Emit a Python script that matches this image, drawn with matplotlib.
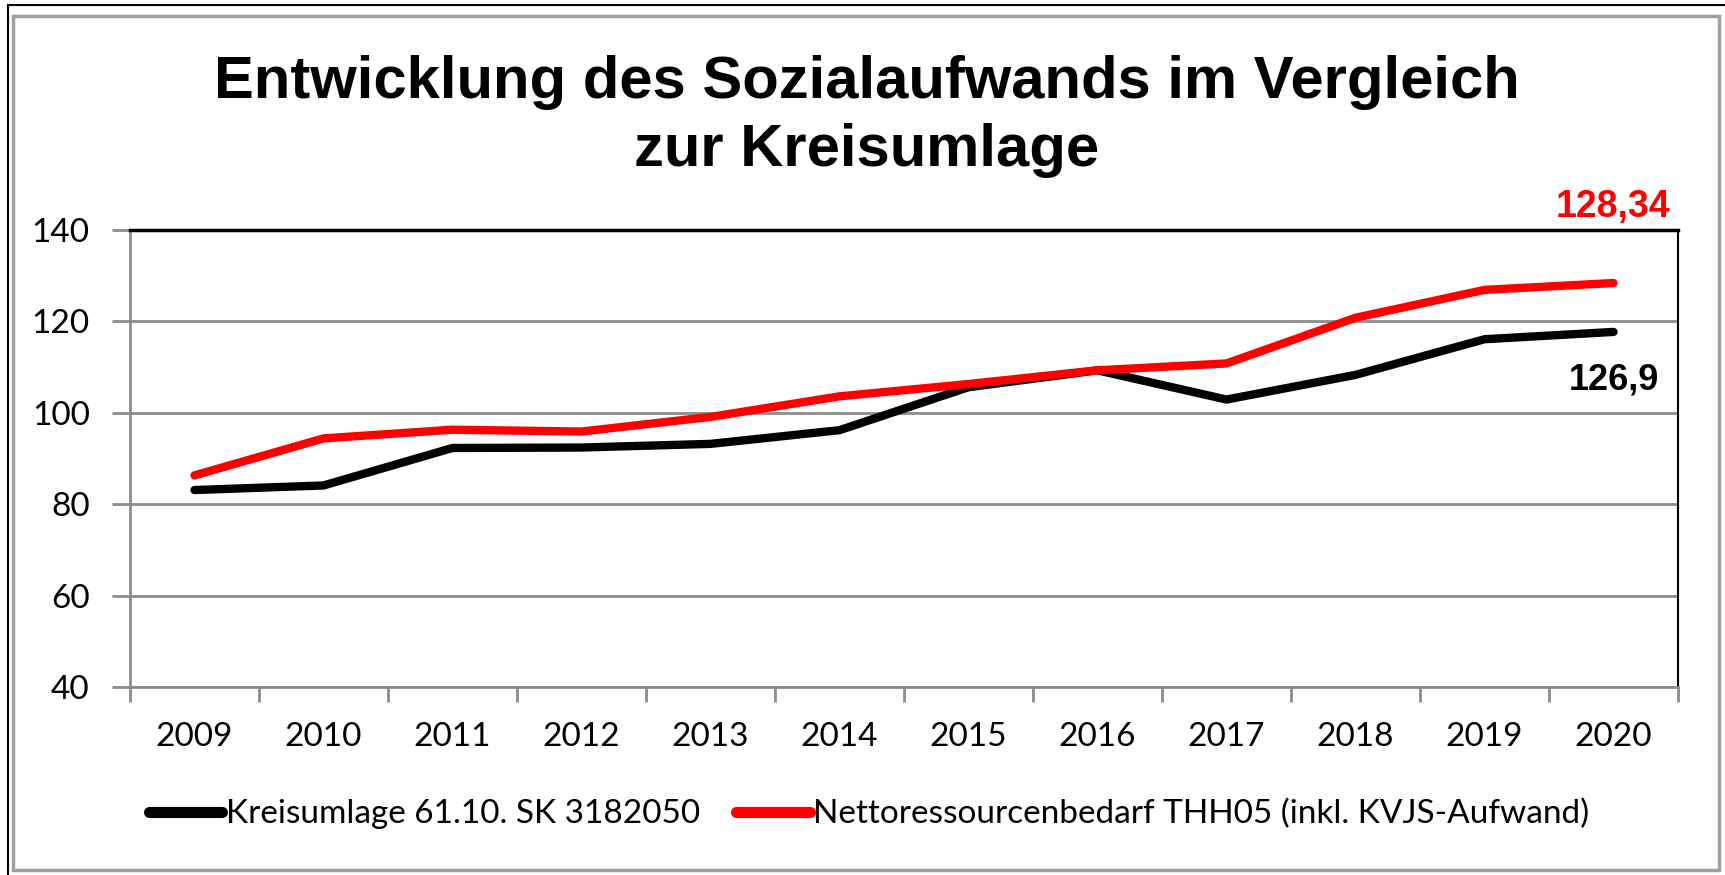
import matplotlib
matplotlib.use("Agg")
import matplotlib.pyplot as plt
from matplotlib.lines import Line2D
from matplotlib.patches import Rectangle

# data
years = ['2009', '2010', '2011', '2012', '2013', '2014',
         '2015', '2016', '2017', '2018', '2019', '2020']
kreisumlage = [83.1, 84.1, 92.3, 92.4, 93.2, 96.2,
               105.6, 109.3, 102.9, 108.3, 116.1, 117.7]
netto = [86.3, 94.4, 96.3, 95.9, 99.1, 103.6,
         106.3, 109.3, 110.8, 120.8, 126.9, 128.4]
label_black = 'Kreisumlage 61.10. SK 3182050'
label_red = 'Nettoressourcenbedarf THH05 (inkl. KVJS-Aufwand)'
note_red = '128,34'
note_black = '126,9'
yticks = [40, 60, 80, 100, 120, 140]

plt.rcParams["font.family"] = "Liberation Sans"
grey = '#8c8c8c'

fig = plt.figure(figsize=(17.25, 8.75), dpi=100)
ax = fig.add_axes([130/1725, 1 - 687/875, (1678-130)/1725, (687-230)/875])

x = list(range(len(years)))
ax.plot(x, kreisumlage, color='black', linewidth=6,
        solid_capstyle='round', solid_joinstyle='round', zorder=3)
ax.plot(x, netto, color='#ff0000', linewidth=6,
        solid_capstyle='round', solid_joinstyle='round', zorder=4)

ax.set_xlim(-0.5, len(years) - 0.5)
ax.set_ylim(40, 140)
ax.set_yticks(yticks)
ax.set_yticklabels([str(v) for v in yticks], family='Lato', fontsize=24)
ax.set_xticks(x)
ax.set_xticklabels(years, family='Lato', fontsize=24)
ax.set_xticks([i - 0.5 for i in range(len(years) + 1)], minor=True)
ax.tick_params(axis='x', which='major', length=0, pad=25)
ax.tick_params(axis='x', which='minor', length=11, width=2, color=grey)
ax.tick_params(axis='y', length=13, width=2, color=grey, pad=16)

ax.grid(axis='y', color=grey, linewidth=2)
ax.set_axisbelow(True)
for s in ['left', 'bottom']:
    ax.spines[s].set_color(grey)
    ax.spines[s].set_linewidth(2)
ax.spines['top'].set_color('black')
ax.spines['top'].set_linewidth(2.5)
ax.spines['right'].set_color('black')
ax.spines['right'].set_linewidth(1.5)

# value labels at the right end
ax.annotate(note_red, (x[-1], netto[-1]), xytext=(0, 76), textcoords='offset pixels',
            ha='center', va='center', color='#ff0000', fontsize=27, fontweight='bold')
ax.annotate(note_black, (x[-1], kreisumlage[-1]), xytext=(0, -48), textcoords='offset pixels',
            ha='center', va='center', color='black', fontsize=26, fontweight='bold')

fig.text(867/1725, 1 - 82/875, 'Entwicklung des Sozialaufwands im Vergleich',
         ha='center', va='center', fontsize=43, fontweight='bold')
fig.text(867/1725, 1 - 151/875, 'zur Kreisumlage',
         ha='center', va='center', fontsize=43, fontweight='bold')

handles = [Line2D([0], [0], color='black', linewidth=8, solid_capstyle='round'),
           Line2D([0], [0], color='#ff0000', linewidth=8, solid_capstyle='round')]
fig.legend(handles, [label_black, label_red], loc='center',
           bbox_to_anchor=(869/1725, 1 - 814/875), ncol=2, frameon=False,
           prop={'family': 'Lato', 'size': 24}, handlelength=2.2,
           handletextpad=0.1, columnspacing=1.1)

# chart frame
fig.add_artist(Line2D([8/1725, 8/1725], [0, 1 - 5/875], color='black', linewidth=1.5,
                      transform=fig.transFigure))
fig.add_artist(Line2D([8/1725, 1], [1 - 5/875, 1 - 5/875], color='black', linewidth=1.5,
                      transform=fig.transFigure))
fig.add_artist(Rectangle((13/1725, 1 - 870/875), (1719-13)/1725, (870-16)/875,
                         fill=False, edgecolor='#a0a0a0', linewidth=2.5,
                         transform=fig.transFigure))

plt.savefig('out.png', dpi=100)
